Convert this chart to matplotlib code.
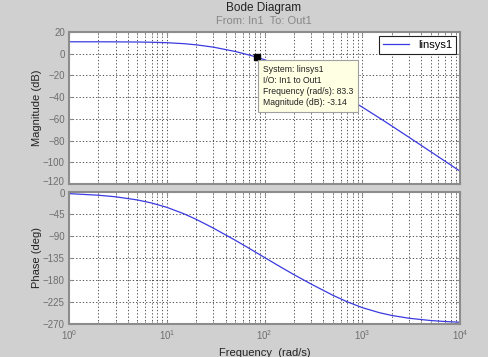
import numpy as np
import matplotlib
matplotlib.use("Agg")
import matplotlib.pyplot as plt
import matplotlib.transforms as mtransforms
from matplotlib.ticker import LogLocator, NullFormatter

plt.rcParams['font.family'] = ['Liberation Sans', 'DejaVu Sans']
plt.rcParams['mathtext.fontset'] = 'custom'
plt.rcParams['mathtext.rm'] = 'Liberation Sans'

# values (rad/s, dB, deg)
freq = [1, 2, 3, 5, 7, 10, 15, 20, 30, 50, 70, 83.3, 100, 150, 200, 300,
        500, 700, 1000, 1500, 2000, 3000, 5000, 7000, 10000]
mag_db = [11.0, 10.96, 10.92, 10.77, 10.56, 10.14, 9.24, 8.2, 6.05, 2.09,
          -1.27, -3.14, -5.54, -11.26, -15.86, -23.06, -33.3, -40.75, -49.18,
          -59.21, -66.5, -76.9, -90.15, -98.9, -108.2]
phase_deg = [-3.3, -6.6, -9.8, -16.2, -22.5, -31.3, -44.6, -55.9, -73.9,
             -98.5, -115.5, -124.5, -133.9, -154.7, -169.0, -188.3, -211.2,
             -224.5, -236.5, -246.9, -252.5, -258.2, -262.9, -264.9, -266.4]
mag_ticks = [20, 0, -20, -40, -60, -80, -100, -120]
phase_ticks = [0, -45, -90, -135, -180, -225, -270]
sel_freq = 83.3
sel_mag = -3.14

bg = '#d0d0d0'
edge = '#8c8c8c'
txt = '#6e6e6e'
line_c = '#3a3ae0'

fig = plt.figure(figsize=(4.88, 3.57), dpi=100, facecolor=bg)
ax1 = fig.add_axes([69/488, 1-184/357, 391/488, 152/357])
ax2 = fig.add_axes([69/488, 1-324/357, 391/488, 132/357])

for ax in (ax1, ax2):
    ax.set_xscale('log')
    ax.set_xlim(1, 1e4)
    ax.xaxis.set_major_locator(LogLocator(base=10, numticks=10))
    ax.xaxis.set_minor_locator(LogLocator(base=10, subs=np.arange(2, 10), numticks=10))
    ax.xaxis.set_minor_formatter(NullFormatter())
    ax.grid(True, which='both', axis='x', color='#333333', linestyle=(0, (1.5, 2.5)), linewidth=0.6)
    ax.grid(True, which='major', axis='y', color='#333333', linestyle=(0, (1.5, 2.5)), linewidth=0.6)
    ax.tick_params(which='both', direction='in', colors=edge, labelcolor=txt, labelsize=7,
                   top=True, right=True, pad=3)
    ax.tick_params(which='major', length=3)
    ax.tick_params(which='minor', length=2)
    for s in ax.spines.values():
        s.set_color(edge)
        s.set_linewidth(1.5)

ax1.plot(freq, mag_db, color=line_c, linewidth=0.9, label='linsys1')
ax1.set_ylim(-120, 20)
ax1.set_yticks(mag_ticks)
ax1.tick_params(labelbottom=False)
ax1.set_ylabel('Magnitude (dB)', fontsize=8, color='#222222')
ax1.yaxis.set_label_coords(-0.069, 0.5)
leg = ax1.legend(loc='upper right', fontsize=8, fancybox=False, edgecolor='#222222',
                 framealpha=1, borderaxespad=0.35, handlelength=2.4, handletextpad=0.8,
                 borderpad=0.35)
leg.get_frame().set_linewidth(0.8)

ax1.plot([sel_freq], [sel_mag], marker='s', color='black', markersize=5, zorder=5)
ax1.annotate('System: linsys1\nI/O: In1 to Out1\nFrequency (rad/s): %.1f\nMagnitude (dB): %.2f'
             % (sel_freq, sel_mag),
             xy=(sel_freq, sel_mag), xytext=(6, -8), textcoords='offset pixels',
             ha='left', va='top', fontsize=6.2, color='#222222', linespacing=1.3,
             bbox=dict(boxstyle='square,pad=0.55', facecolor='#ffffe4', edgecolor='#a0a0a0',
                       linewidth=0.8), zorder=6)

ax2.plot(freq, phase_deg, color=line_c, linewidth=0.9)
ax2.set_ylim(-270, 0)
ax2.set_yticks(phase_ticks)
ax2.set_ylabel('Phase (deg)', fontsize=8, color='#222222')
ax2.yaxis.set_label_coords(-0.069, 0.5)
ax2.set_xlabel('Frequency  (rad/s)', fontsize=8, color='#222222', labelpad=4)

# nudge the two labels that meet between the panels
fig.canvas.draw()
ax1.get_yticklabels()[-1].set_transform(
    ax1.get_yticklabels()[-1].get_transform() + mtransforms.ScaledTranslation(0, 2.5/100, fig.dpi_scale_trans))
ax2.get_yticklabels()[0].set_transform(
    ax2.get_yticklabels()[0].get_transform() + mtransforms.ScaledTranslation(0, -1/100, fig.dpi_scale_trans))

fig.text(264/488, 1-8/357, 'Bode Diagram', ha='center', va='center', fontsize=8.5, color='#222222')
fig.text(264/488, 1-21/357, 'From: In1  To: Out1', ha='center', va='center', fontsize=8, color='#888888')

fig.savefig('out.png', dpi=100, facecolor=bg)
